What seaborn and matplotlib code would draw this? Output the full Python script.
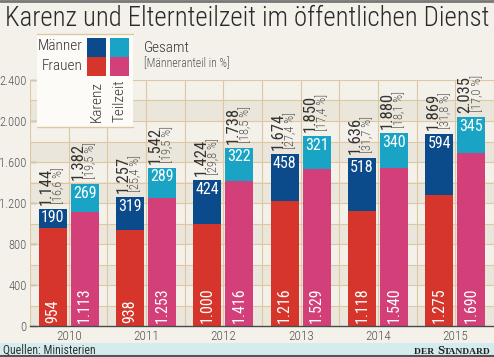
import matplotlib
matplotlib.use("Agg")
import matplotlib.pyplot as plt
from matplotlib import font_manager as fm
from matplotlib.patches import Rectangle
from matplotlib.lines import Line2D
import seaborn as sns
import pandas as pd

# ---------------- data ----------------
years = ["2010", "2011", "2012", "2013", "2014", "2015"]
karenz_total = [1144, 1257, 1424, 1674, 1636, 1869]
karenz_maenner = [190, 319, 424, 458, 518, 594]
karenz_frauen = [954, 938, 1000, 1216, 1118, 1275]
karenz_pct = [16.6, 25.4, 29.8, 27.4, 31.7, 31.8]
teilzeit_total = [1382, 1542, 1738, 1850, 1880, 2035]
teilzeit_maenner = [269, 289, 322, 321, 340, 345]
teilzeit_frauen = [1113, 1253, 1416, 1529, 1540, 1690]
teilzeit_pct = [19.5, 19.5, 18.5, 17.4, 18.1, 17.0]
yticks = [0, 400, 800, 1200, 1600, 2000, 2400]
types = ["Karenz", "Teilzeit"]

title = "Karenz und Elternteilzeit im öffentlichen Dienst"
source = "Quellen: Ministerien"

# ---------------- colours ----------------
BG = "#f4f1ea"
BAND = "#ebe6db"
GRID = "#dcc8a3"
DBLUE = "#0b4a8b"
CYAN = "#19a4c6"
RED = "#d5352a"
PINK = "#d33f78"
TXT = "#333333"
GRAYTXT = "#555555"

# ---------------- fonts ----------------
def find_condensed(weights):
    prefs = ["Roboto Condensed", "Liberation Sans Narrow", "Open Sans Condensed",
             "Noto Sans", "Noto Sans Condensed", "Open Sans", "Roboto", "DejaVu Sans"]
    for pref in prefs:
        for f in fm.fontManager.ttflist:
            st = str(f.stretch).lower()
            nm = f.name
            cond = ("condensed" in st or "narrow" in st or "Condensed" in nm or "Narrow" in nm
                    or "Condensed" in f.fname or "Narrow" in f.fname)
            if nm == pref and cond and f.style == "normal" and f.weight in weights:
                if "semi" in st or "Semi" in f.fname or "extra" in st or "Extra" in f.fname:
                    continue
                return f.fname
    return None

COND_PATH = find_condensed((400, "normal", "regular"))
LIGHT_PATH = find_condensed((300, "light")) or COND_PATH


def fp(size, path=None):
    path = path or COND_PATH
    if path:
        return fm.FontProperties(fname=path, size=size)
    return fm.FontProperties(family="Roboto", size=size)


SERIF = fm.FontProperties(family=["Liberation Serif", "DejaVu Serif"], weight="bold")

sns.set_theme(style="white")
plt.rcParams["font.family"] = ["Roboto", "DejaVu Sans"]

W, H = 494, 357
fig = plt.figure(figsize=(W / 100, H / 100), dpi=100, facecolor=BG)


def fx(px):
    return px / W


def fy(py):
    return 1 - py / H


ax = fig.add_axes([fx(30), fy(326), 464 / W, 246 / H])
ax.set_facecolor(BG)

# ---------------- bars via seaborn ----------------
df_tot = pd.DataFrame({
    "Jahr": years * 2,
    "Typ": ["Karenz"] * 6 + ["Teilzeit"] * 6,
    "Gesamt": karenz_total + teilzeit_total,
})
df_fr = pd.DataFrame({
    "Jahr": years * 2,
    "Typ": ["Karenz"] * 6 + ["Teilzeit"] * 6,
    "Frauen": karenz_frauen + teilzeit_frauen,
})
sns.barplot(data=df_tot, x="Jahr", y="Gesamt", hue="Typ", hue_order=types,
            palette={"Karenz": DBLUE, "Teilzeit": CYAN}, width=0.83, gap=0.13,
            saturation=1, errorbar=None, legend=False, ax=ax, zorder=3, linewidth=0)
tot_containers = list(ax.containers)
sns.barplot(data=df_fr, x="Jahr", y="Frauen", hue="Typ", hue_order=types,
            palette={"Karenz": RED, "Teilzeit": PINK}, width=0.83, gap=0.13,
            saturation=1, errorbar=None, legend=False, ax=ax, zorder=4, linewidth=0)

ax.set_xlim(-0.5, 5.5)
ax.set_ylim(0, 2400)

# background bands and grid
for y0 in range(0, 2400, 400):
    ax.axhspan(y0, y0 + 200, color=BAND, zorder=0.1, lw=0)
for k in range(13):
    ax.axvline(-0.5 + 0.5 * k, color=GRID, lw=0.8, zorder=0.6)
for yv in range(200, 2401, 200):
    ax.axhline(yv, color=GRID, lw=0.8, zorder=0.6)

for s in ["top", "right", "left"]:
    ax.spines[s].set_visible(False)
ax.spines["bottom"].set_color("#4a4a4a")
ax.spines["bottom"].set_linewidth(1.0)
ax.spines["bottom"].set_zorder(6)

ax.set_yticks(yticks)
ax.set_yticklabels([f"{v:,}".replace(",", ".") for v in yticks], fontproperties=fp(9, LIGHT_PATH),
                   color=GRAYTXT)
ax.tick_params(axis="y", direction="in", length=4, width=0.9, color="#4a4a4a", pad=2.5, left=True)
ax.set_xticks(range(len(years)))
ax.set_xticklabels(years, fontproperties=fp(9.5, LIGHT_PATH), color=GRAYTXT)
ax.tick_params(axis="x", length=0, pad=3)
ax.set_xlabel("")
ax.set_ylabel("")

# ---------------- labels ----------------
pt = 72 / 100  # points per pixel
maenner = [karenz_maenner, teilzeit_maenner]
frauen = [karenz_frauen, teilzeit_frauen]
totals = [karenz_total, teilzeit_total]
pcts = [karenz_pct, teilzeit_pct]
for t, cont in enumerate(tot_containers):
    for i, rect in enumerate(cont):
        cx = rect.get_x() + rect.get_width() / 2
        top = rect.get_height()
        ax.annotate(f"{maenner[t][i]}", (cx, top), xytext=(0, -9 * pt), textcoords="offset points",
                    ha="center", va="center", color="white", fontproperties=fp(11.5), zorder=7)
        ax.annotate(f"{frauen[t][i]:,}".replace(",", "."), (cx, 0), xytext=(0, 3 * pt),
                    textcoords="offset points", ha="center", va="bottom", rotation=90,
                    color="white", fontproperties=fp(11.5), zorder=7)
        ax.annotate(f"{totals[t][i]:,}".replace(",", "."), (cx, top), xytext=(-6.5 * pt, 4 * pt),
                    textcoords="offset points", ha="center", va="bottom", rotation=90,
                    color=TXT, fontproperties=fp(12), zorder=7, annotation_clip=False)
        ax.annotate(f"[{pcts[t][i]:.1f} %]".replace(".", ","), (cx, top), xytext=(6 * pt, 5 * pt),
                    textcoords="offset points", ha="center", va="bottom", rotation=90,
                    color=GRAYTXT, fontproperties=fp(9, LIGHT_PATH), zorder=7, annotation_clip=False)

# ---------------- legend box ----------------
fig.patches.append(Rectangle((fx(37), fy(127)), fx(133) - fx(37), fy(34) - fy(127),
                             transform=fig.transFigure, facecolor="#fcfbf7", edgecolor="none",
                             zorder=0.5))
for yy in (34, 127):
    fig.lines.append(Line2D([fx(37), fx(133)], [fy(yy), fy(yy)], transform=fig.transFigure,
                            color=GRID, lw=1.0, zorder=0.6))
legend_cols = {"Karenz": (DBLUE, RED, 87), "Teilzeit": (CYAN, PINK, 110)}
for name, (cm, cf, x0) in legend_cols.items():
    fig.patches.append(Rectangle((fx(x0), fy(57)), 19 / W, 19 / H, transform=fig.transFigure,
                                 facecolor=cm, edgecolor="none", zorder=2))
    fig.patches.append(Rectangle((fx(x0), fy(76)), 19 / W, 19 / H, transform=fig.transFigure,
                                 facecolor=cf, edgecolor="none", zorder=2))
    fig.text(fx(x0 + 9.5), fy(101), name, rotation=90, ha="center", va="center",
             fontproperties=fp(11, LIGHT_PATH), color=TXT, zorder=8)
fig.text(fx(83), fy(46.5), "Männer", ha="right", va="center", fontproperties=fp(11, LIGHT_PATH), color=TXT)
fig.text(fx(83), fy(65.5), "Frauen", ha="right", va="center", fontproperties=fp(11, LIGHT_PATH), color=TXT)
fig.text(fx(144), fy(48), "Gesamt", ha="left", va="center", fontproperties=fp(11, LIGHT_PATH), color=TXT)
fig.text(fx(144), fy(64), "[Männeranteil in %]", ha="left", va="center", fontproperties=fp(8.5, LIGHT_PATH),
         color=GRAYTXT)

# ---------------- title, frame, source ----------------
fig.lines.append(Line2D([0, 1], [fy(1), fy(1)], transform=fig.transFigure, color="#777777", lw=2))
tt = fig.text(fx(5), fy(18), title, ha="left", va="center", fontproperties=fp(20, LIGHT_PATH),
              color="#2a2a2a")
renderer = fig.canvas.get_renderer()
wpx = tt.get_window_extent(renderer).width
tt.set_fontsize(20 * 484 / wpx)

fig.patches.append(Rectangle((0, 0), 1, fy(343), transform=fig.transFigure,
                             facecolor="#d5ecef", edgecolor="none", zorder=0))
fig.lines.append(Line2D([0, 1], [fy(356), fy(356)], transform=fig.transFigure, color="#555555", lw=1.5))
fig.text(fx(3), fy(350), source, ha="left", va="center", fontproperties=fp(8.5), color=TXT)

# "DER STANDARD" with small-caps look
p_small = SERIF.copy(); p_small.set_size(6.8)
p_big = SERIF.copy(); p_big.set_size(9)
t3 = fig.text(fx(491), fy(353.5), "TANDARD", ha="right", va="baseline", fontproperties=p_small, color="#222222")
w3 = t3.get_window_extent(renderer).width
t2 = fig.text(fx(491 - w3), fy(353.5), "S", ha="right", va="baseline", fontproperties=p_big, color="#222222")
w2 = t2.get_window_extent(renderer).width
fig.text(fx(491 - w3 - w2 - 0.5), fy(353.5), "DER ", ha="right", va="baseline", fontproperties=p_small,
         color="#222222")

fig.savefig("out.png", dpi=100, facecolor=BG)
